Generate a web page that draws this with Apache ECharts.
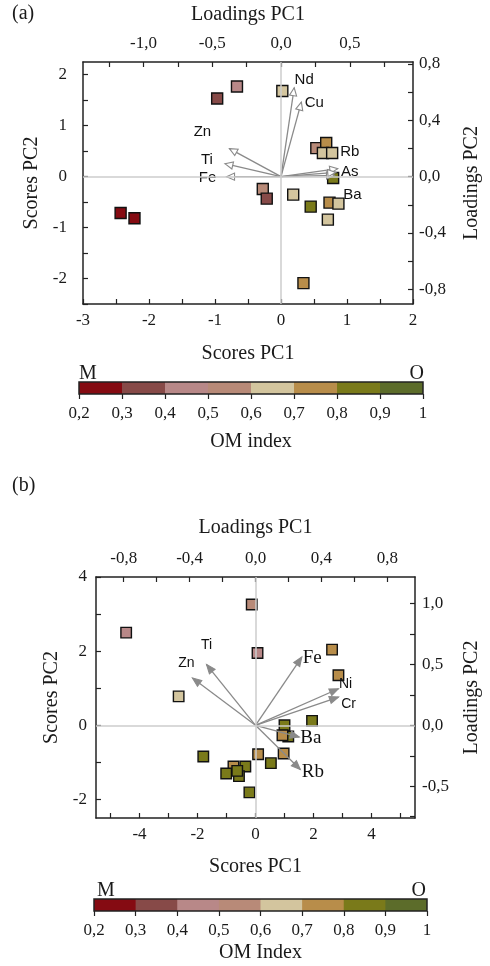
<!DOCTYPE html>
<html>
<head>
<meta charset="utf-8">
<script src="https://cdn.jsdelivr.net/npm/echarts@6/dist/echarts.min.js"></script>
<style>
  html, body { margin: 0; padding: 0; background: #fff; }
  #chart { width: 490px; height: 966px; }
</style>
</head>
<body>
<div id="chart"></div>
<script>
// ---------- Panel (a): sample scores and element loadings ----------
const scoresA_PC1 = [-0.667, -0.967, 0.02, 0.535, 0.685, 0.635, 0.775, 0.79, -0.276, -0.216, 0.185, 0.45, 0.735, 0.87, 0.71, 0.34, -2.43, -2.22];
const scoresA_PC2 = [1.77, 1.535, 1.68, 0.56, 0.66, 0.463, 0.463, -0.027, -0.243, -0.432, -0.353, -0.588, -0.51, -0.53, -0.843, -2.09, -0.713, -0.818];
const omA = [0.45, 0.35, 0.65, 0.55, 0.75, 0.65, 0.65, 0.85, 0.55, 0.35, 0.65, 0.85, 0.75, 0.65, 0.65, 0.75, 0.25, 0.25];

const elementsA = ['Nd', 'Cu', 'Zn', 'Ti', 'Fe', 'As', 'Ba', 'Rb'];
const loadA_PC1 = [0.096, 0.148, -0.375, -0.408, -0.396, 0.413, 0.389, 0.398];
const loadA_PC2 = [0.631, 0.529, 0.199, 0.092, 0.0, 0.057, 0.009, 0.03];

// ---------- Panel (b): sample scores and element loadings ----------
const scoresB_PC1 = [-4.46, -0.13, 0.07, 2.64, 2.86, -2.65, 1.95, 1.0, 1.13, 0.93, -1.8, 0.09, 0.97, 0.53, -0.76, -0.35, -0.57, -1.01, -0.63, -0.21];
const scoresB_PC2 = [2.50, 3.26, 1.95, 2.04, 1.35, 0.78, 0.12, 0.0, -0.30, -0.27, -0.84, -0.78, -0.76, -1.02, -1.11, -1.11, -1.37, -1.30, -1.23, -1.81];
const omB = [0.45, 0.55, 0.45, 0.75, 0.75, 0.65, 0.85, 0.85, 0.85, 0.75, 0.85, 0.75, 0.75, 0.85, 0.75, 0.85, 0.85, 0.85, 0.85, 0.85];

const elementsB = ['Ti', 'Zn', 'Fe', 'Ni', 'Cr', 'Ba', 'Rb'];
const loadB_PC1 = [-0.297, -0.383, 0.281, 0.504, 0.504, 0.266, 0.272];
const loadB_PC2 = [0.498, 0.388, 0.56, 0.30, 0.232, -0.096, -0.363];

// ---------- OM index colour scale ----------
const omBins = [0.2, 0.3, 0.4, 0.5, 0.6, 0.7, 0.8, 0.9];
const omColors = ['#850b12', '#874a48', '#b88888', '#b88a78', '#d3c59e', '#b88d4a', '#7a7a1a', '#5c6c2a'];
const omTicks = [0.2, 0.3, 0.4, 0.5, 0.6, 0.7, 0.8, 0.9, 1.0];

// ---------- Tick values ----------
const ticksA_sx = [-3, -2.5, -2, -1.5, -1, -0.5, 0, 0.5, 1, 1.5, 2];
const labelsA_sx = [-3, -2, -1, 0, 1, 2];
const ticksA_sy = [-2.5, -2, -1.5, -1, -0.5, 0, 0.5, 1, 1.5, 2];
const labelsA_sy = [-2, -1, 0, 1, 2];
const ticksA_lx = [-1.25, -1, -0.75, -0.5, -0.25, 0, 0.25, 0.5, 0.75];
const labelsA_lx = [-1, -0.5, 0, 0.5];
const ticksA_ly = [-0.8, -0.6, -0.4, -0.2, 0, 0.2, 0.4, 0.6, 0.8];
const labelsA_ly = [-0.8, -0.4, 0, 0.4, 0.8];

const ticksB_sx = [-5, -4, -3, -2, -1, 0, 1, 2, 3, 4, 5];
const labelsB_sx = [-4, -2, 0, 2, 4];
const ticksB_sy = [-2, -1, 0, 1, 2, 3, 4];
const labelsB_sy = [-2, 0, 2, 4];
const ticksB_lx = [-0.8, -0.6, -0.4, -0.2, 0, 0.2, 0.4, 0.6, 0.8];
const labelsB_lx = [-0.8, -0.4, 0, 0.4, 0.8];
const ticksB_ly = [-0.75, -0.5, -0.25, 0, 0.25, 0.5, 0.75, 1.0];
const labelsB_ly = [-0.5, 0, 0.5, 1.0];

// ---------- Axis extents (scores vs. loadings share the same origin) ----------
const extA = { sx: [-3, 2], sy: [-2.5, 2.25], kx: 2.084, ky: 2.765 };
const extB = { sx: [-5.5, 5.5], sy: [-2.5, 4], kx: 5.68, ky: 3.288 };

// ---------- Label offsets (px) for the loading arrows ----------
const arrowLabelStyleA = {
  Nd: [10, -8], Cu: [13, 1], Zn: [-27, -17], Ti: [-18, -4], Fe: [-19, 1],
  As: [12, 3], Ba: [18, 19], Rb: [14, -21]
};
const arrowLabelStyleB = {
  Ti: [0, -19, 'sans'], Zn: [-6, -15, 'sans'], Fe: [10.5, 0.5, 'serif'], Ni: [7, -5, 'sans'],
  Cr: [10, 7, 'sans'], Ba: [11.5, 1, 'serif'], Rb: [12.5, 2.5, 'serif']
};

const SERIF = '"Liberation Serif", "Times New Roman", serif';
const SANS = '"Liberation Sans", Arial, sans-serif';
const INK = '#1a1a1a';

const comma1 = v => (Math.abs(v) < 1e-9 ? 0 : v).toFixed(1).replace('.', ',');
const plain = v => String(v);

function valueAxis(cfg) {
  return {
    type: 'value',
    gridIndex: cfg.grid,
    position: cfg.position,
    min: cfg.min,
    max: cfg.max,
    name: cfg.name || '',
    nameLocation: 'middle',
    nameGap: cfg.nameGap || 30,
    nameTextStyle: { fontFamily: SERIF, fontSize: cfg.nameSize || 20, color: INK },
    axisLine: { show: true, onZero: false, lineStyle: { color: '#222', width: 1.5 } },
    axisTick: {
      show: true, inside: cfg.tickInside !== false, length: 5,
      customValues: cfg.ticks, lineStyle: { color: '#222', width: 1.2 }
    },
    axisLabel: {
      show: cfg.labels !== null,
      customValues: cfg.labels || [],
      formatter: cfg.fmt || plain,
      margin: cfg.margin == null ? 8 : cfg.margin,
      fontFamily: SERIF, fontSize: cfg.labelSize || 17, color: INK
    },
    splitLine: { show: false },
    silent: true
  };
}

function arrowRenderer(names, offsets, hollow) {
  return function (params, api) {
    const o = api.coord([0, 0]);
    const t = api.coord([api.value(0), api.value(1)]);
    const dx = t[0] - o[0], dy = t[1] - o[1];
    const len = Math.sqrt(dx * dx + dy * dy) || 1;
    const ux = dx / len, uy = dy / len;
    const nx = -uy, ny = ux;
    const L = hollow ? 8 : 9, W = 3.6;
    const b1 = [t[0] - ux * L + nx * W, t[1] - uy * L + ny * W];
    const b2 = [t[0] - ux * L - nx * W, t[1] - uy * L - ny * W];
    const name = names[params.dataIndex];
    const off = offsets[name];
    const font = hollow ? SANS : (off[2] === 'serif' ? SERIF : SANS);
    const size = hollow ? 15 : (off[2] === 'serif' ? 19 : 14);
    return {
      type: 'group',
      children: [
        { type: 'line', shape: { x1: o[0], y1: o[1], x2: t[0], y2: t[1] },
          style: { stroke: '#8a8a8a', lineWidth: 1.3 } },
        { type: 'polygon', shape: { points: [t, b1, b2] },
          style: { fill: hollow ? '#fff' : '#8a8a8a', stroke: '#8a8a8a', lineWidth: 1.1 } },
        { type: 'text', x: t[0] + off[0], y: t[1] + off[1],
          style: { text: name, fill: '#111', font: size + 'px ' + font,
                   textAlign: 'center', textVerticalAlign: 'middle' } }
      ]
    };
  };
}

// Colour-bar segments; a small overlap hides anti-aliasing seams between bins
function colorbarRenderer(params, api) {
  const p0 = api.coord([api.value(0), 1]);
  const p1 = api.coord([api.value(0) + 0.1, 0]);
  const last = params.dataIndex === omBins.length - 1;
  return {
    type: 'rect',
    shape: { x: p0[0], y: p0[1], width: p1[0] - p0[0] + (last ? 0 : 1), height: p1[1] - p0[1] },
    style: { fill: omColors[params.dataIndex] }
  };
}

function colorbarFrame(params, api) {
  const p0 = api.coord([api.value(0), 1]);
  const p1 = api.coord([api.value(1), 0]);
  return {
    type: 'rect',
    shape: { x: p0[0], y: p0[1], width: p1[0] - p0[0], height: p1[1] - p0[1] },
    style: { fill: 'none', stroke: '#222', lineWidth: 1.5 }
  };
}

const zeroLines = {
  silent: true, symbol: 'none', label: { show: false },
  lineStyle: { color: '#cccccc', width: 1.5, type: 'solid' },
  data: [{ xAxis: 0 }, { yAxis: 0 }]
};

const squares = {
  symbol: 'rect',
  itemStyle: { borderColor: '#111', borderWidth: 1.4, opacity: 1 }
};

const dataA = scoresA_PC1.map((x, i) => [x, scoresA_PC2[i], omA[i]]);
const dataB = scoresB_PC1.map((x, i) => [x, scoresB_PC2[i], omB[i]]);
const arrowsA = loadA_PC1.map((x, i) => [x, loadA_PC2[i]]);
const arrowsB = loadB_PC1.map((x, i) => [x, loadB_PC2[i]]);

const pieces = omBins.map((v, i) => (i === omBins.length - 1
  ? { gte: v, lte: 1.0, color: omColors[i] }
  : { gte: v, lt: v + 0.1 - 1e-9, color: omColors[i] }));

const option = {
  backgroundColor: '#fff',
  animation: false,
  grid: [
    { left: 83, top: 62, width: 333, height: 242 },
    { left: 96, top: 577, width: 332, height: 241 },
    { left: 79, top: 382, width: 344, height: 12 },
    { left: 94, top: 899, width: 333, height: 12 }
  ],
  xAxis: [
    valueAxis({ grid: 0, position: 'bottom', min: extA.sx[0], max: extA.sx[1], ticks: ticksA_sx, labels: labelsA_sx,
                name: 'Scores PC1', nameGap: 40, margin: 8 }),
    valueAxis({ grid: 0, position: 'top', min: extA.sx[0] / extA.kx, max: extA.sx[1] / extA.kx, ticks: ticksA_lx,
                labels: labelsA_lx, fmt: comma1, name: 'Loadings PC1', nameGap: 37, margin: 10 }),
    valueAxis({ grid: 1, position: 'bottom', min: extB.sx[0], max: extB.sx[1], ticks: ticksB_sx, labels: labelsB_sx,
                name: 'Scores PC1', nameGap: 39, margin: 8 }),
    valueAxis({ grid: 1, position: 'top', min: extB.sx[0] / extB.kx, max: extB.sx[1] / extB.kx, ticks: ticksB_lx,
                labels: labelsB_lx, fmt: comma1, name: 'Loadings PC1', nameGap: 39, margin: 10 }),
    Object.assign(valueAxis({ grid: 2, position: 'bottom', min: 0.2, max: 1, ticks: omTicks, labels: omTicks,
                fmt: v => (v >= 0.999 ? '1' : comma1(v)), name: 'OM index', nameGap: 38, margin: 11, tickInside: false }),
                { axisLine: { show: false } }),
    Object.assign(valueAxis({ grid: 3, position: 'bottom', min: 0.2, max: 1, ticks: omTicks, labels: omTicks,
                fmt: v => (v >= 0.999 ? '1' : comma1(v)), name: 'OM Index', nameGap: 32, margin: 11, tickInside: false }),
                { axisLine: { show: false } })
  ],
  yAxis: [
    valueAxis({ grid: 0, position: 'left', min: extA.sy[0], max: extA.sy[1], ticks: ticksA_sy, labels: labelsA_sy,
                name: 'Scores PC2', nameGap: 30, margin: 16 }),
    valueAxis({ grid: 0, position: 'right', min: extA.sy[0] / extA.ky, max: extA.sy[1] / extA.ky, ticks: ticksA_ly,
                labels: labelsA_ly, fmt: comma1, name: 'Loadings PC2', nameGap: 49, margin: 6 }),
    valueAxis({ grid: 1, position: 'left', min: extB.sy[0], max: extB.sy[1], ticks: ticksB_sy, labels: labelsB_sy,
                name: 'Scores PC2', nameGap: 31, margin: 9 }),
    valueAxis({ grid: 1, position: 'right', min: extB.sy[0] / extB.ky, max: extB.sy[1] / extB.ky, ticks: ticksB_ly,
                labels: labelsB_ly, fmt: comma1, name: 'Loadings PC2', nameGap: 47, margin: 7 }),
    { type: 'value', gridIndex: 2, min: 0, max: 1, show: false },
    { type: 'value', gridIndex: 3, min: 0, max: 1, show: false }
  ],
  visualMap: {
    type: 'piecewise', show: false, dimension: 2, seriesIndex: [1, 4],
    pieces: pieces
  },
  series: [
    // 0: panel (a) zero lines
    { type: 'scatter', xAxisIndex: 0, yAxisIndex: 0, data: [[0, 0]], symbolSize: 0, z: 1, markLine: zeroLines },
    // 1: panel (a) samples
    Object.assign({ type: 'scatter', xAxisIndex: 0, yAxisIndex: 0, data: dataA, symbolSize: 11, z: 3 }, squares),
    // 2: panel (a) loading arrows
    { type: 'custom', xAxisIndex: 1, yAxisIndex: 1, data: arrowsA, clip: false, z: 4,
      renderItem: arrowRenderer(elementsA, arrowLabelStyleA, true) },
    // 3: panel (b) zero lines
    { type: 'scatter', xAxisIndex: 2, yAxisIndex: 2, data: [[0, 0]], symbolSize: 0, z: 1, markLine: zeroLines },
    // 4: panel (b) samples
    Object.assign({ type: 'scatter', xAxisIndex: 2, yAxisIndex: 2, data: dataB, symbolSize: 10.5, z: 3 }, squares),
    // 5: panel (b) loading arrows
    { type: 'custom', xAxisIndex: 3, yAxisIndex: 3, data: arrowsB, clip: false, z: 4,
      renderItem: arrowRenderer(elementsB, arrowLabelStyleB, false) },
    // 6-9: OM index colour bars
    { type: 'custom', xAxisIndex: 4, yAxisIndex: 4, data: omBins.map(v => [v]), renderItem: colorbarRenderer, silent: true },
    { type: 'custom', xAxisIndex: 4, yAxisIndex: 4, data: [[0.2, 1.0]], renderItem: colorbarFrame, silent: true, z: 3 },
    { type: 'custom', xAxisIndex: 5, yAxisIndex: 5, data: omBins.map(v => [v]), renderItem: colorbarRenderer, silent: true },
    { type: 'custom', xAxisIndex: 5, yAxisIndex: 5, data: [[0.2, 1.0]], renderItem: colorbarFrame, silent: true, z: 3 }
  ],
  graphic: [
    { type: 'text', left: 12, top: 4, style: { text: '(a)', font: '20px ' + SERIF, fill: INK } },
    { type: 'text', left: 12, top: 476, style: { text: '(b)', font: '20px ' + SERIF, fill: INK } },
    { type: 'text', left: 79, top: 364, style: { text: 'M', font: '20px ' + SERIF, fill: INK } },
    { type: 'text', right: 66, top: 364, style: { text: 'O', font: '20px ' + SERIF, fill: INK } },
    { type: 'text', left: 97, top: 881, style: { text: 'M', font: '20px ' + SERIF, fill: INK } },
    { type: 'text', right: 64, top: 881, style: { text: 'O', font: '20px ' + SERIF, fill: INK } }
  ]
};

const chart = echarts.init(document.getElementById('chart'), null, { renderer: 'canvas' });
chart.setOption(option);
</script>
</body>
</html>
